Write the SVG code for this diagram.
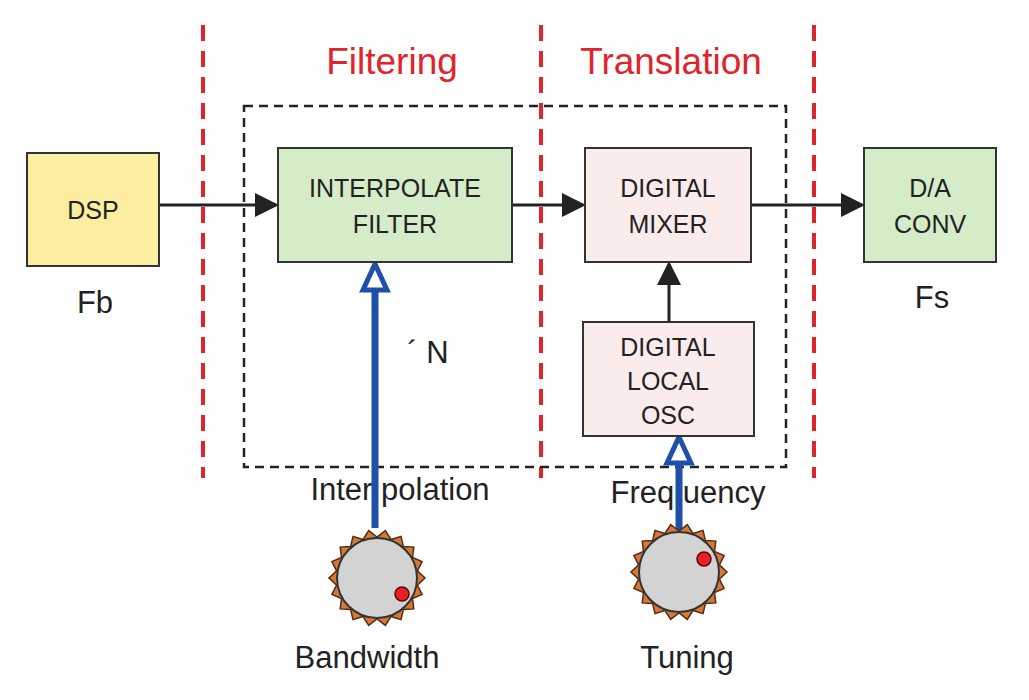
<svg xmlns="http://www.w3.org/2000/svg" width="1029" height="700" viewBox="0 0 1029 700">
<defs>
<style>
text{font-family:"Liberation Sans",Arial,sans-serif;fill:#222}
.box{stroke:#333;stroke-width:2}
.bt{font-size:25px;text-anchor:middle}
.lbl{font-size:31px;text-anchor:middle}
.red{fill:#e0242c;font-size:37px;text-anchor:middle}
.vl{stroke:#e0242c;stroke-width:4;stroke-dasharray:16,10}
.ar{stroke:#222;stroke-width:3;fill:none;marker-end:url(#ah)}
.bl{stroke:#1f4fa8;stroke-width:7;fill:none}
</style>
<marker id="ah" markerWidth="8" markerHeight="8" refX="7" refY="4" orient="auto" markerUnits="strokeWidth"><path d="M0,0 L8,4 L0,8 z" fill="#222"/></marker>
<polygon id="gear" points="48,0 40.4,7.1 45.1,16.4 35.5,20.5 36.8,30.9 26.4,31.4 24,41.6 14,38.5 8.3,47.3 0,41 -8.3,47.3 -14,38.5 -24,41.6 -26.4,31.4 -36.8,30.9 -35.5,20.5 -45.1,16.4 -40.4,7.1 -48,0 -40.4,-7.1 -45.1,-16.4 -35.5,-20.5 -36.8,-30.9 -26.4,-31.4 -24,-41.6 -14,-38.5 -8.3,-47.3 0,-41 8.3,-47.3 14,-38.5 24,-41.6 26.4,-31.4 36.8,-30.9 35.5,-20.5 45.1,-16.4 40.4,-7.1" fill="#d27a3c" stroke="#5a2a10" stroke-width="1.5"/>
</defs>
<rect width="1029" height="700" fill="#fff"/>
<g id="regions">
<line class="vl" x1="203" y1="25" x2="203" y2="478"/>
<line class="vl" x1="541" y1="25" x2="541" y2="478"/>
<line class="vl" x1="814" y1="25" x2="814" y2="478"/>
<text class="red" x="392" y="74">Filtering</text>
<text class="red" x="671" y="74">Translation</text>
<rect x="244" y="106" width="542" height="361" fill="none" stroke="#222" stroke-width="2.5" stroke-dasharray="9,6"/>
</g>
<g id="connectors">
<line class="ar" x1="159" y1="205" x2="276" y2="205"/>
<line class="ar" x1="512" y1="205" x2="583" y2="205"/>
<line class="ar" x1="751" y1="205" x2="862" y2="205"/>
<line class="ar" x1="669" y1="322" x2="669" y2="264"/>
<line class="bl" x1="375" y1="528" x2="375" y2="285"/>
<path d="M375,264 L387,290 L363,290 z" fill="#fff" stroke="#1f4fa8" stroke-width="5"/>
<line class="bl" x1="679" y1="532" x2="679" y2="458"/>
<path d="M679,437 L691,463 L667,463 z" fill="#fff" stroke="#1f4fa8" stroke-width="5"/>
</g>
<g id="dsp"><rect class="box" x="27" y="153" width="132" height="113" fill="#fbeea0"/><text class="bt" x="93" y="219">DSP</text><text class="lbl" x="95" y="313">Fb</text></g>
<g id="interp"><rect class="box" x="278" y="148" width="234" height="114" fill="#d5ecc8"/><text class="bt" x="395" y="197">INTERPOLATE</text><text class="bt" x="395" y="233">FILTER</text></g>
<g id="mixer"><rect class="box" x="585" y="148" width="166" height="114" fill="#fbecec"/><text class="bt" x="668" y="197">DIGITAL</text><text class="bt" x="668" y="233">MIXER</text></g>
<g id="osc"><rect class="box" x="583" y="322" width="171" height="114" fill="#fbecec"/><text class="bt" x="668" y="356">DIGITAL</text><text class="bt" x="668" y="390">LOCAL</text><text class="bt" x="668" y="424">OSC</text></g>
<g id="dac"><rect class="box" x="864" y="148" width="132" height="114" fill="#d5ecc8"/><text class="bt" x="930" y="197">D/A</text><text class="bt" x="930" y="233">CONV</text><text class="lbl" x="932" y="308">Fs</text></g>
<g id="labels">
<text class="lbl" x="428" y="363">´ N</text>
<text class="lbl" x="400" y="500">Inter  polation</text>
<text class="lbl" x="688" y="503">Freq  uency</text>
</g>
<g id="knob1"><use href="#gear" x="377" y="578"/><circle cx="377" cy="578" r="40" fill="#d3d3d3" stroke="#333" stroke-width="2"/><circle cx="402" cy="594" r="7" fill="#e8202a" stroke="#600" stroke-width="1.5"/><text class="lbl" x="367" y="668">Bandwidth</text></g>
<g id="knob2"><use href="#gear" x="679" y="572"/><circle cx="679" cy="572" r="40" fill="#d3d3d3" stroke="#333" stroke-width="2"/><circle cx="704" cy="559" r="7" fill="#e8202a" stroke="#600" stroke-width="1.5"/><text class="lbl" x="687" y="668">Tuning</text></g>
</svg>
